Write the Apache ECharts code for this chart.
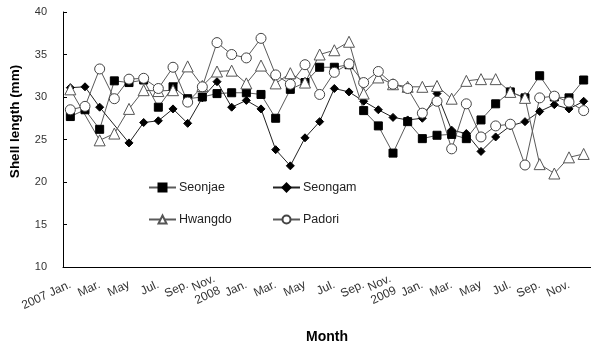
<!DOCTYPE html>
<html>
<head>
<meta charset="utf-8">
<script src="https://cdn.jsdelivr.net/npm/echarts@6/dist/echarts.min.js"></script>
<style>
  html, body { margin: 0; padding: 0; background: #fff; }
  #chart { width: 591px; height: 351px; }
</style>
</head>
<body>
<div id="chart"></div>
<script>
// Monthly samples, Jan. 2007 – Dec. 2009
const months = [
  '2007-01','2007-02','2007-03','2007-04','2007-05','2007-06','2007-07','2007-08','2007-09','2007-10','2007-11','2007-12',
  '2008-01','2008-02','2008-03','2008-04','2008-05','2008-06','2008-07','2008-08','2008-09','2008-10','2008-11','2008-12',
  '2009-01','2009-02','2009-03','2009-04','2009-05','2009-06','2009-07','2009-08','2009-09','2009-10','2009-11','2009-12'
];

// Tick labels shown on every other month
const tickLabels = [
  '2007 Jan.','','Mar.','','May','','Jul.','','Sep.','','Nov.\n2008','',
  'Jan.','','Mar.','','May','','Jul.','','Sep.','','Nov.\n2009','',
  'Jan.','','Mar.','','May','','Jul.','','Sep.','','Nov.',''
];

// Mean shell length (mm) per site
const seonjae = [27.7, 28.5, 26.2, 31.9, 31.7, 32.0, 28.8, 31.2, 29.8, 30.0, 30.4, 30.5,
                 30.5, 30.3, 27.5, 30.9, 31.7, 33.5, 33.5, 33.8, 28.4, 26.6, 23.4, 27.1,
                 25.1, 25.5, 25.6, 25.1, 27.3, 29.2, 30.6, 29.9, 32.5, 30.0, 29.9, 32.0];
const seongam = [31.1, 31.2, 28.8, null, 24.6, 27.0, 27.2, 28.6, 26.9, 29.9, 31.8, 28.8,
                 29.6, 28.6, 23.8, 21.9, 25.2, 27.1, 31.0, 30.6, 29.5, 28.5, 27.6, 27.3,
                 27.5, 30.4, 26.1, 25.7, 23.6, 25.3, 26.6, 27.1, 28.3, 29.1, 28.6, 29.5];
const hwangdo = [30.9, null, 24.9, 25.7, 28.6, 30.8, 30.7, 30.8, 33.6, 31.3, 33.0, 33.1,
                 31.6, 33.7, 31.6, 32.8, 31.7, 35.0, 35.5, 36.5, 30.4, 32.3, 31.5, 31.2,
                 31.2, 31.3, 29.8, 31.9, 32.1, 32.1, 30.6, 29.9, 22.1, 21.0, 22.9, 23.3];
const padori  = [28.5, 28.9, 33.3, 29.8, 32.1, 32.2, 31.0, 33.5, 29.4, 31.2, 36.4, 35.0,
                 34.6, 36.9, 32.6, 31.5, 33.8, 30.3, 32.9, 33.9, 31.7, 33.0, 31.5, 31.0,
                 28.1, 29.5, 23.9, 29.2, 25.3, 26.6, 26.8, 22.0, 29.9, 30.1, 29.4, 28.4];

const FONT = 'Liberation Sans, Arial, sans-serif';
const LINE = '#5a5a5a';

function site(name, data, symbol, size, fill, lineColor, border) {
  return {
    name, type: 'line', data, symbol, symbolSize: size,
    connectNulls: true,
    lineStyle: { color: lineColor, width: 1 },
    itemStyle: { color: fill, borderColor: border, borderWidth: 1 },
    emphasis: { disabled: true },
    animation: false
  };
}

function legendAt(name, left, top) {
  return {
    data: [name], left, top, orient: 'horizontal', padding: 0,
    itemWidth: 27, itemHeight: 10, itemGap: 4,
    textStyle: { fontFamily: FONT, fontSize: 12.5, color: '#222', padding: [0, 0, 0, -2] },
    selectedMode: false
  };
}

const chart = echarts.init(document.getElementById('chart'), null, { renderer: 'canvas' });
chart.setOption({
  backgroundColor: '#fff',
  animation: false,
  grid: { left: 62, right: 0, top: 12, bottom: 84 },
  legend: [
    legendAt('Seonjae', 148, 181),
    legendAt('Seongam', 272, 181),
    legendAt('Hwangdo', 148, 213),
    legendAt('Padori', 272, 213)
  ],
  xAxis: {
    type: 'category', data: months, boundaryGap: true,
    name: 'Month', nameLocation: 'middle', nameGap: 63,
    nameTextStyle: { fontFamily: FONT, fontSize: 14, fontWeight: 'bold', color: '#000' },
    axisLine: { lineStyle: { color: '#000', width: 1 } },
    axisTick: { inside: true, length: 4, interval: 0, lineStyle: { color: '#000' } },
    axisLabel: {
      interval: 0, rotate: 25, margin: 17,
      fontFamily: FONT, fontSize: 12, color: '#333', lineHeight: 13,
      formatter: (v, i) => tickLabels[i]
    },
    splitLine: { show: false }
  },
  yAxis: {
    type: 'value', min: 10, max: 40, interval: 5,
    name: 'Shell length (mm)', nameLocation: 'middle', nameGap: 41, nameRotate: 90,
    nameTextStyle: { fontFamily: FONT, fontSize: 13.5, fontWeight: 'bold', color: '#000', padding: [0, 0, 0, 36] },
    axisLine: { show: true, lineStyle: { color: '#000', width: 1 } },
    axisTick: { show: true, inside: true, length: 4, lineStyle: { color: '#000' } },
    axisLabel: { margin: 16, fontFamily: FONT, fontSize: 11, color: '#333' },
    splitLine: { show: false }
  },
  series: [
    site('Seonjae', seonjae, 'rect', 8, '#000', LINE, '#000'),
    site('Seongam', seongam, 'diamond', 8, '#000', '#222', '#000'),
    site('Hwangdo', hwangdo, 'triangle', 11, '#fff', LINE, '#555'),
    site('Padori', padori, 'circle', 10, '#fff', LINE, '#444')
  ]
});
</script>
</body>
</html>
